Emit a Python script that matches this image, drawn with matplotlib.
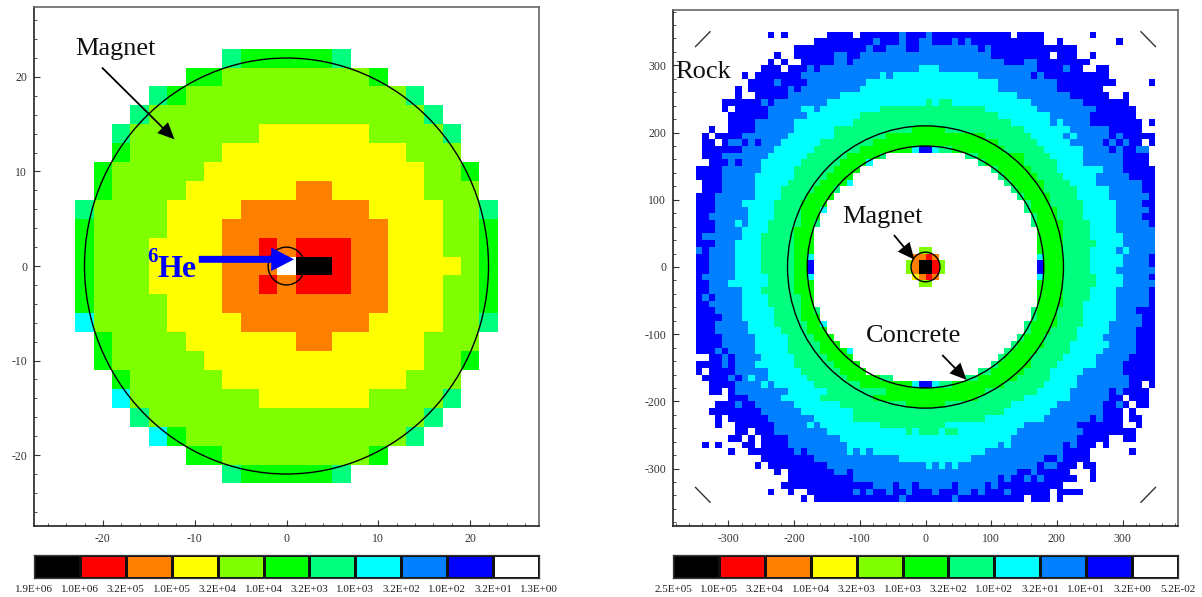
"""Dose maps of the magnet and the concrete tunnel, with stepped colour legends."""

import matplotlib

matplotlib.use("Agg")

import matplotlib.pyplot as plt
import numpy as np
from matplotlib.colors import ListedColormap
from matplotlib.patches import Circle
from matplotlib.ticker import MultipleLocator

plt.rcParams["font.family"] = ["Liberation Serif", "DejaVu Serif"]
plt.rcParams["axes.unicode_minus"] = False

WIDTH, HEIGHT = 1202, 597

LEVEL_CODES = "kroylgscab."
LEVEL_COLORS = ["#000000", "#ff0000", "#ff7f00", "#ffff00", "#7fff00", "#00ff00",
                "#00ff7f", "#00ffff", "#007fff", "#0000ff", "#ffffff"]

LEFT_LABELS = ["1.9E+06", "1.0E+06", "3.2E+05", "1.0E+05", "3.2E+04", "1.0E+04",
               "3.2E+03", "1.0E+03", "3.2E+02", "1.0E+02", "3.2E+01", "1.3E+00"]
RIGHT_LABELS = ["2.5E+05", "1.0E+05", "3.2E+04", "1.0E+04", "3.2E+03", "1.0E+03",
                "3.2E+02", "1.0E+02", "3.2E+01", "1.0E+01", "3.2E+00", "5.2E-02"]

# each row reads "start column + level"; a level runs until the next start
LEFT_ROWS = [
    "8s 9g 14s 15.",
    "6g 8l 16g 17.",
    "4s 5g 6l 18s 19.",
    "3s 4l 19s 20.",
    "2s 3l 10y 16l 20s 21.",
    "2g 3l 8y 18l 21.",
    "1g 2l 7y 19l 21g 22.",
    "1g 2l 6y 12o 14y 19l 22.",
    "0s 1l 5y 9o 16y 20l 22s",
    "0g 1l 5y 8o 17y 20l 22g",
    "0g 1l 4y 8o 10r 11o 12r 15o 17y 20l 22g",
    "0g 1l 4y 8o 11. 12k 14r 15o 17y 21l 22g",
    "0g 1l 4y 8o 10r 11o 12r 15o 17y 20l 22g",
    "0g 1l 5y 8o 17y 20l 22g",
    "0c 1l 5y 9o 16y 20l 22s",
    "1g 2l 6y 12o 14y 19l 22.",
    "1g 2l 7y 19l 21g 22.",
    "2g 3l 8y 18l 21.",
    "2c 3l 10y 16l 20s 21.",
    "3s 4l 19s 20.",
    "4c 5g 6l 18s 19.",
    "6g 8l 16g 17.",
    "8s 9g 14s 15.",
]

RIGHT_ROWS = [
    "11b 12. 13b 14. 20b 24. 25b 31a 32b 35a 36b 48. 49b 53. 60b 61.",
    "18b 27a 28b 31a 32b 34a 36b 39a 40b 41a 42b 53. 55b 56. 64b 65.",
    "15b 26a 27b 29a 32b 34a 43b 44a 45b 58.",
    "12b 13. 15b 21a 23b 25a 45b 54. 55b 58. 60b 61.",
    "11b 12. 13b 14. 16b 21a 23b 24a 47b 50a 52b 60.",
    "10b 13. 14b 17a 18b 19a 34c 37a 52b 56a 57b 59. 61b 63.",
    "7b 8. 9b 16a 28c 29a 30c 43a 51b 52a 53b 63.",
    "8b 12a 13b 17a 26c 46a 55b 64. 69b",
    "6b 7. 8b 14a 15b 16a 25c 46a 55b 62.",
    "6b 7. 9b 14a 22c 49a 57b 63. 65b 66.",
    "4b 10a 11b 12a 20c 35s 36c 37s 39c 51a 59b 66.",
    "4b 5. 6b 11a 16c 18a 19c 28s 44c 52a 61b 67.",
    "5b 11a 17c 25s 46c 54a 60b 67.",
    "5b 9a 15c 24s 48c 54a 55c 56a 60b 68. 69b",
    "2b 3. 5b 9a 15c 21s 33g 38s 50c 57a 63b 68.",
    "1b 2. 3b 7a 14c 21s 29g 44s 51c 56a 57c 58a 63b 64a 65b",
    "1b 3. 4b 5a 7b 8a 9b 10a 13c 19s 27g 46s 52c 57a 62b 63a 64b 65a 66b 68. 69b",
    "1b 7a 12c 18s 25g 33c 34b 36c 37s 39g 47s 53c 59a 63b 64a 65b 67a 69.",
    "1b 4a 11c 17s 23g 28s 29. 41s 43g 50s 54c 59a 65b 69.",
    "2b 5a 6b 7a 10c 16s 22g 26c 27. 43s 44g 50s 55c 59a 65b 69.",
    "0b 4a 10c 15s 21g 25. 45s 46g 51s 55c 62a 65b",
    "0b 4a 9c 15s 20g 24. 46s 47g 52s 56c 61a 66b",
    "1b 4a 9c 14s 19g 23c 24. 47s 48g 53s 57c 61a 68b",
    "1b 4a 9c 13s 18g 21s 22. 48s 49g 53s 58c 63a 68b",
    "0b 3a 9c 13s 17g 21. 49s 50g 54s 58c 63a 69b",
    "0b 3a 7c 12s 16g 20. 50s 51g 54s 59c 64a 68b",
    "0b 3a 8c 12s 16g 19c 20. 50s 51g 55s 59c 64a 69b",
    "0b 2a 8c 12s 16g 19. 51s 52g 55s 59c 64a 68b",
    "0b 3a 6c 7a 8c 11s 16g 18s 19. 51s 52g 56s 60c 64a 69b",
    "0b 3a 7c 11s 15g 18. 52g 56s 60c 64a",
    "0b 1a 7c 10s 15g 18. 52g 56s 60c 65a",
    "0b 3a 6c 10s 15g 18. 52g 56s 61c 65a",
    "0a 1b 2a 6c 10s 15g 18. 34l 36. 52g 56s 60c 64a 65c 66a",
    "0b 2a 6c 10s 15g 17c 18. 33o 35r 36o 37. 52c 53g 56s 60c 65a 69b",
    "0b 2a 6c 10s 15g 17b 18. 32l 33o 34k 36r 37l 38. 52b 53g 56s 60c 65a 69b",
    "0b 2a 6c 10s 15g 17b 18. 32l 33o 34k 36r 37l 38. 52b 53g 56s 60c 64a",
    "0b 1a 6c 11s 15g 17c 18. 33y 34o 35r 36o 37. 52c 53g 56s 61c 65a 69b",
    "0b 2a 5c 11s 15g 18. 34l 36. 52g 56s 61c 65a",
    "0b 2a 7c 10s 15g 18. 52g 56s 60c 64a 69b",
    "0b 1a 2b 3a 7c 11s 16g 18. 52g 56s 60c 64a 69b",
    "0b 2a 7c 11s 16g 18. 52g 56s 59c 64a 69b",
    "0b 3a 7c 12s 16g 18s 19. 51s 52g 55s 59c 64a 67b",
    "0b 4a 7c 12s 16g 19. 51s 52g 55s 59c 64a 68b",
    "0b 3a 8c 12s 17g 19c 20. 50s 51g 55s 59c 63a 68b",
    "0b 3a 8c 13s 17g 20. 50s 51g 54s 58c 63a 67b",
    "0b 4a 9c 14s 18g 21. 49s 50g 53s 58c 62a 67b",
    "0b 4a 9c 14s 19g 22. 48s 49g 53s 57c 63a 67b",
    "0b 3a 4b 5a 9c 14s 19g 23c 24. 47s 48g 52s 57c 62a 67b",
    "2b 4a 5b 6a 10c 15s 20g 24. 46s 47g 51s 56c 61a 66b",
    "0b 4a 5b 6a 9c 15s 21g 25. 45s 46g 51s 55c 61a 65b",
    "0b 1. 2b 6a 11c 16s 22g 26. 43s 45g 50s 54c 59a 65b",
    "1b 5a 6b 7a 8c 9a 11c 17s 23g 28s 30. 41s 43g 49s 54c 58a 66b",
    "2b 6a 10c 11a 12c 18s 25g 33c 34b 36c 37s 39g 47s 53c 58a 66b 68. 69b",
    "2b 4. 5b 6a 14c 20s 29g 44s 52c 57a 63b 64a 65b 69.",
    "5b 8a 13c 19s 27g 43s 50c 57a 63b 65. 66b 69.",
    "3b 6a 7b 9a 15c 22s 32g 38s 48c 55a 62b 64a 65b 66. 67b 69.",
    "2b 10a 16c 24s 47c 54a 62b 65. 66b 67.",
    "3b 4. 5b 11a 18c 24s 44c 53a 60b 61a 62b 65. 66b 68.",
    "3b 4. 6b 12a 17c 18a 19c 28s 38c 50a 58b 65. 67b 68.",
    "6b 8. 9b 12a 20c 32s 33c 34s 37c 38s 40c 49a 59b 67.",
    "5b 7. 8b 9. 10b 14a 22c 48a 58b 63. 65b 67.",
    "1b 2. 3b 4. 7b 9. 10b 14a 23c 46a 47c 48a 56b 57a 58b 61. 62b 63.",
    "5b 6. 8b 15a 16b 17a 23c 24a 25c 26a 27c 44a 56b 60. 66b 67.",
    "10b 18a 31c 42a 53b 55a 56b 60.",
    "9b 10. 11b 20a 35c 36a 37c 38a 39c 40a 52b 53a 55b 58. 59b 61.",
    "12b 13. 14b 21a 23b 24a 49b 51a 52b 57. 60b 61.",
    "14b 24a 46b 47a 48b 50a 51b 52a 53b 58. 60b 61.",
    "13b 27a 30b 31a 33b 34a 39b 40a 44b 45a 46b 56.",
    "11b 12. 14b 15. 17b 24a 25b 26a 27b 29a 30b 32a 33b 36a 37b 40a 42b 43a 44b 47a 48b 54. 55b 59.",
    "16b 17. 18b 31a 32b 39a 40b 50. 51b 54. 55b 56.",
]

LEVEL_CMAP = ListedColormap(LEVEL_COLORS)


def decode(rows, columns):
    grid = np.full((len(rows), columns), LEVEL_CODES.index("."))
    for r, row in enumerate(rows):
        for token in row.split():
            grid[r, int(token[:-1]):] = LEVEL_CODES.index(token[-1])
    return grid


def box(left, top, right, bottom):
    return [left / WIDTH, 1 - bottom / HEIGHT, (right - left) / WIDTH, (bottom - top) / HEIGHT]


def put_text(fig, px, py, text, **kwargs):
    fig.text(px / WIDTH, 1 - py / HEIGHT, text, va="baseline", **kwargs)


def draw_map(ax, rows, cell, half, limits, major, minor):
    n = len(rows)
    edges = np.arange(n + 1) * cell - half
    ax.pcolormesh(edges, edges[::-1], decode(rows, n), cmap=LEVEL_CMAP,
                  vmin=-0.5, vmax=10.5, linewidth=0, antialiased=False)
    ax.set_xlim(limits[0], limits[1])
    ax.set_ylim(limits[2], limits[3])
    ax.xaxis.set_major_locator(MultipleLocator(major))
    ax.yaxis.set_major_locator(MultipleLocator(major))
    ax.xaxis.set_minor_locator(MultipleLocator(minor))
    ax.yaxis.set_minor_locator(MultipleLocator(minor))
    ax.tick_params(which="major", direction="in", length=4, width=0.8, color="#333333",
                   labelsize=8.5, labelcolor="#333333", pad=5)
    ax.tick_params(which="minor", direction="in", length=2, width=0.6, color="#333333")
    for side in ("left", "bottom"):
        ax.spines[side].set_color("#222222")
        ax.spines[side].set_linewidth(1.2)
    for side in ("top", "right"):
        ax.spines[side].set_color("#666666")
        ax.spines[side].set_linewidth(1.2)


def draw_legend(ax, labels):
    ax.pcolormesh(np.arange(12), [0, 1], np.arange(11).reshape(1, 11), cmap=LEVEL_CMAP,
                  vmin=-0.5, vmax=10.5, edgecolors="#111111", linewidth=0.8)
    ax.set_xticks(np.arange(12))
    ax.set_xticklabels(labels, fontsize=8, color="#222222")
    ax.set_yticks([])
    ax.tick_params(axis="x", length=0, pad=5)
    for spine in ax.spines.values():
        spine.set_color("#333333")
        spine.set_linewidth(0.9)


def black_arrow(ax, tail, tip):
    ax.annotate("", xy=tip, xytext=tail,
                arrowprops=dict(width=1.3, headwidth=11, headlength=12, shrink=0,
                                facecolor="black", edgecolor="black", linewidth=0))


def main():
    fig = plt.figure(figsize=(WIDTH / 100, HEIGHT / 100), dpi=100)

    left = fig.add_axes(box(34, 7, 539, 526))
    draw_map(left, LEFT_ROWS, 2, 23, (-27.5, 27.5, -27.5, 27.4), 10, 2)
    for radius in (22, 2):
        left.add_patch(Circle((0, 0), radius, fill=False, edgecolor="black", linewidth=1.0))
    black_arrow(left, (-20.1, 21.0), (-12.2, 13.4))
    left.annotate("", xy=(0.83, 0.71), xytext=(-9.55, 0.71),
                  arrowprops=dict(width=5, headwidth=17, headlength=16.5, shrink=0,
                                  facecolor="#0000ff", edgecolor="#0000ff", linewidth=0))

    right = fig.add_axes(box(673, 10, 1178, 526))
    draw_map(right, RIGHT_ROWS, 10, 350, (-384.3, 384.3, -385.4, 382.4), 100, 20)
    for radius in (180, 210, 22):
        right.add_patch(Circle((0, 0), radius, fill=False, edgecolor="black", linewidth=1.0))
    for sx in (-1, 1):
        for sy in (-1, 1):
            right.plot([sx * 350, sx * 328], [sy * 328, sy * 350], color="#333333", linewidth=1.0)
    black_arrow(right, (-48, 47.6), (-17, 11))
    black_arrow(right, (25.5, -131), (62.5, -168))

    draw_legend(fig.add_axes(box(34, 555, 539, 578)), LEFT_LABELS)
    draw_legend(fig.add_axes(box(673, 555, 1178, 578)), RIGHT_LABELS)

    put_text(fig, 75, 55, "Magnet", fontsize=19, color="#111111")
    put_text(fig, 675, 78, "Rock", fontsize=19, color="#111111")
    put_text(fig, 842, 223, "Magnet", fontsize=19, color="#111111")
    put_text(fig, 866, 342, "Concrete", fontsize=19, color="#111111")
    put_text(fig, 147, 262, "6", fontsize=15, color="#0000ff", fontweight="bold")
    put_text(fig, 157, 277, "He", fontsize=23, color="#0000ff", fontweight="bold")

    fig.savefig("out.png", dpi=100)
    plt.close(fig)


if __name__ == "__main__":
    main()
